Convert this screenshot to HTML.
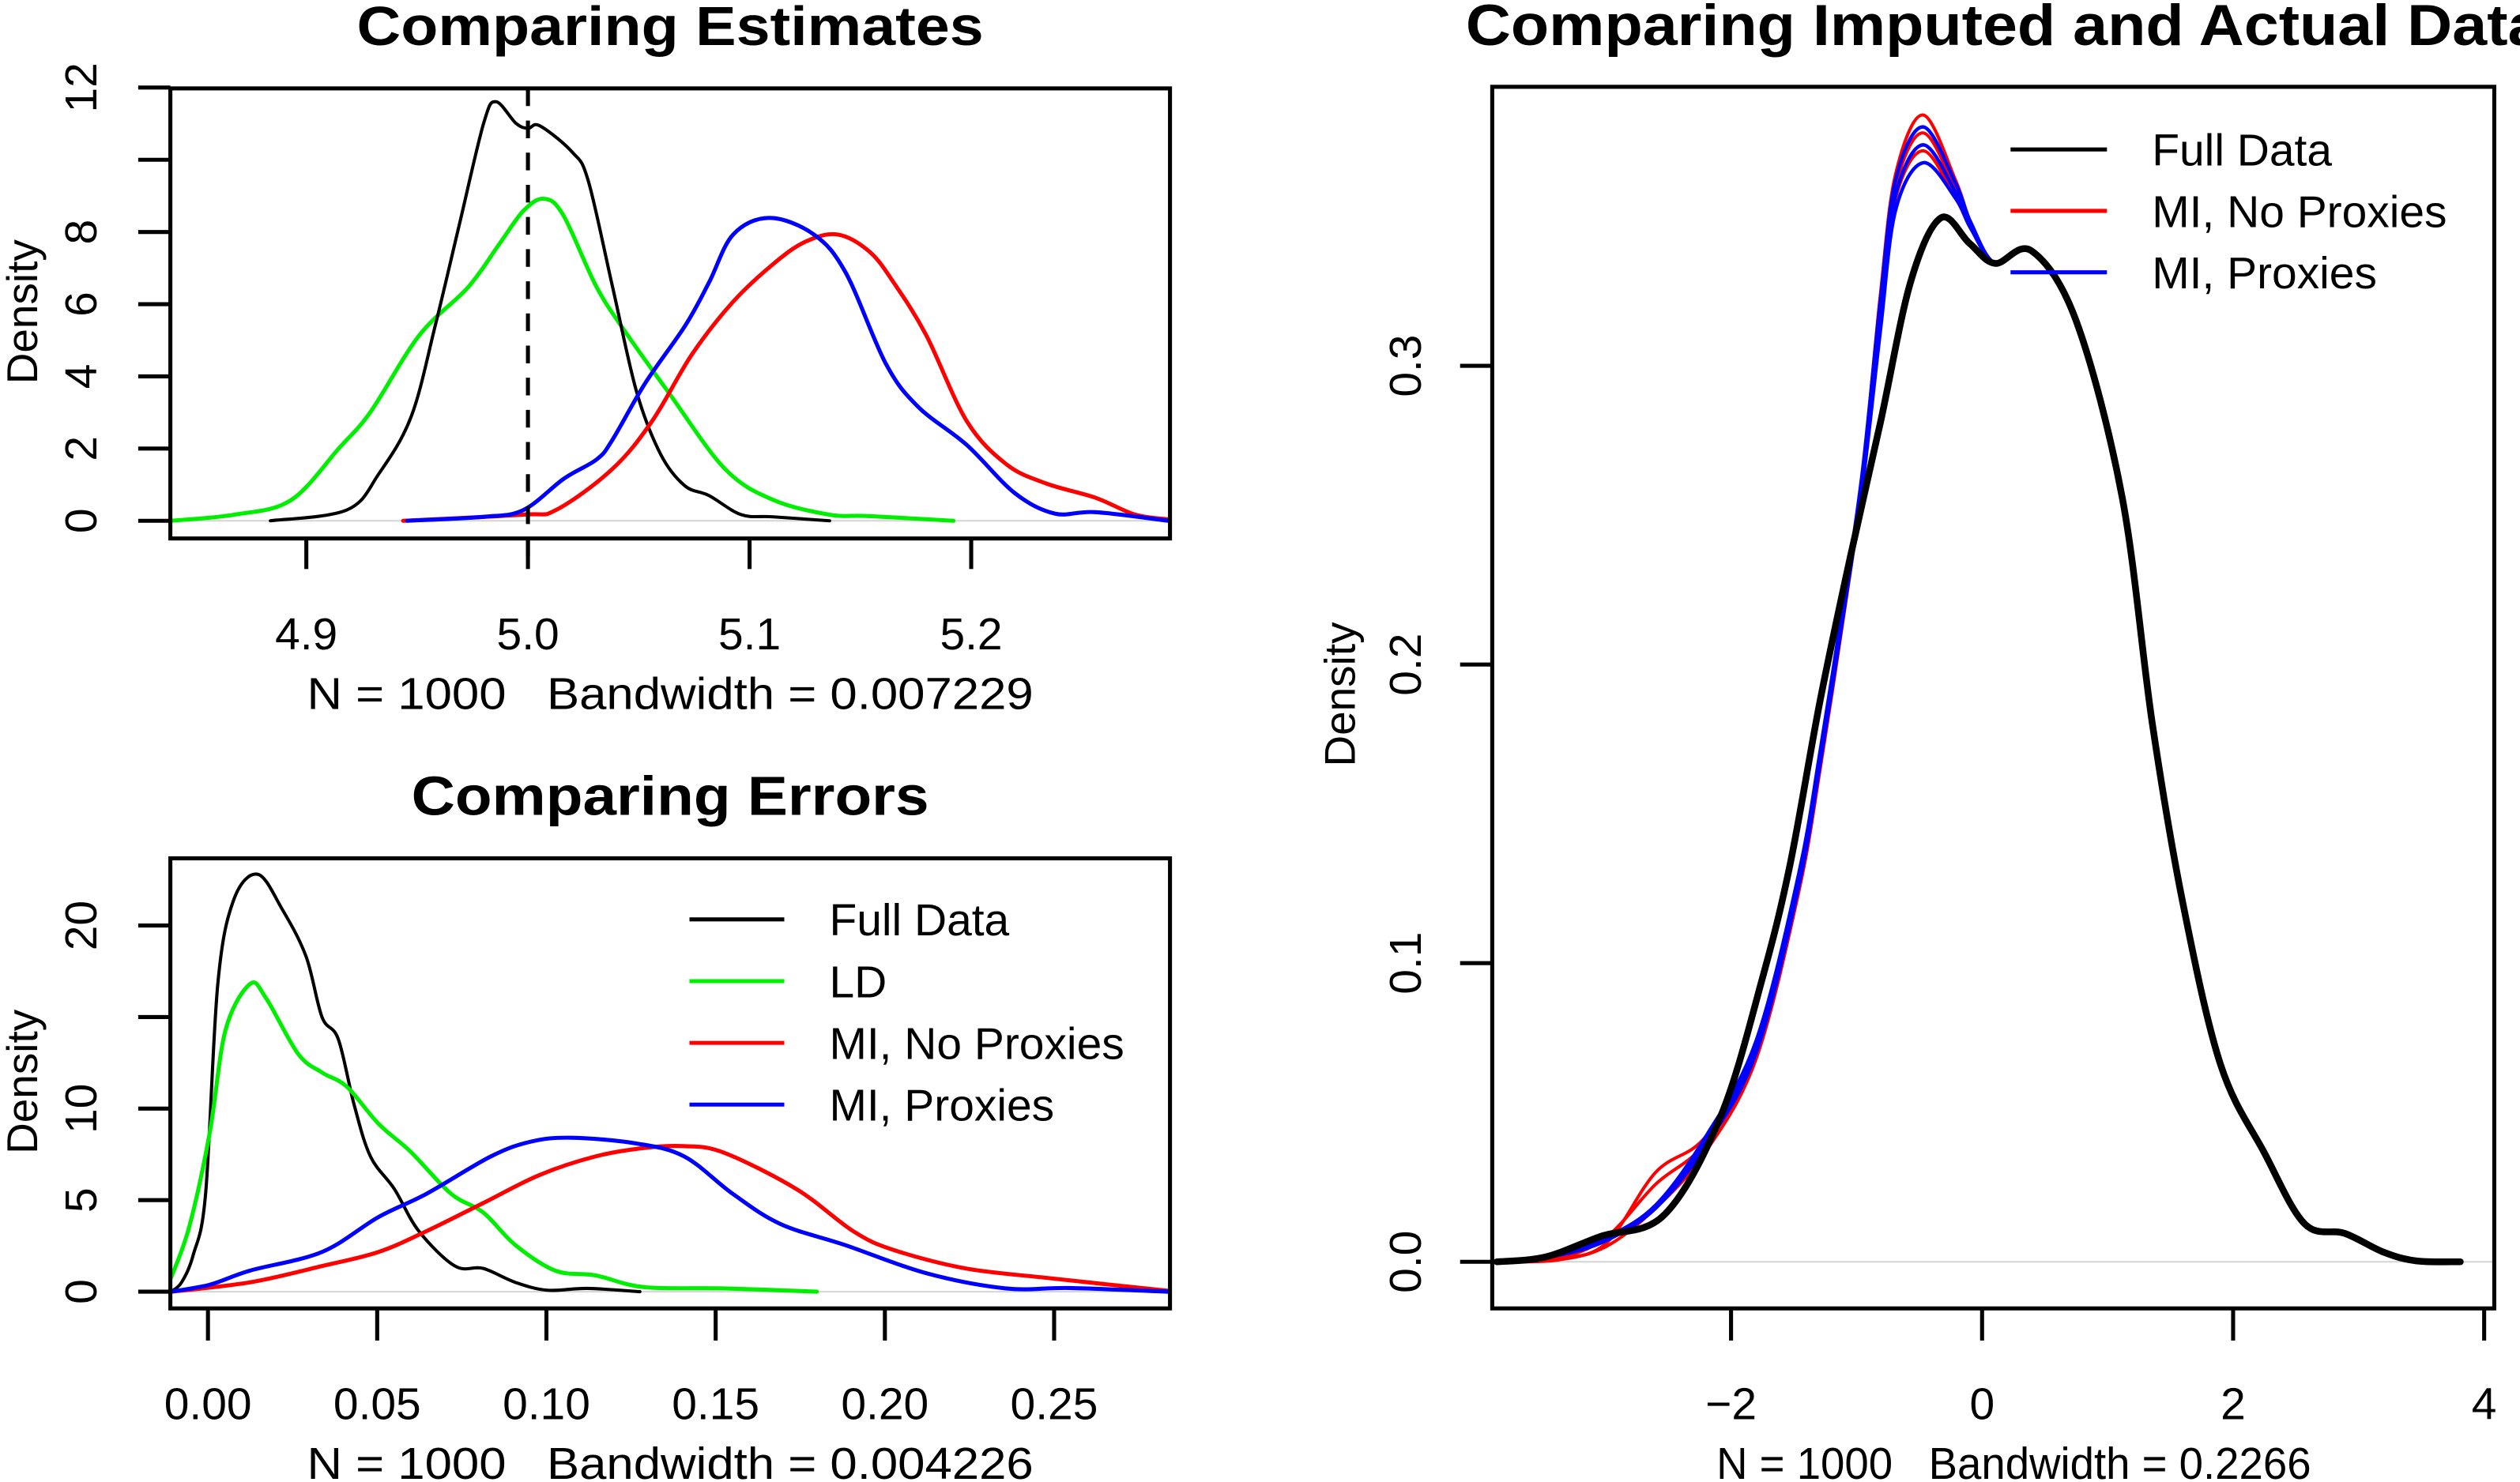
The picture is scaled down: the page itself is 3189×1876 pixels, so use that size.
<!DOCTYPE html>
<html><head><meta charset="utf-8"><style>
html,body{margin:0;padding:0;background:#fff;}
svg{display:block;}
text{font-family:"Liberation Sans",sans-serif;fill:#000;white-space:pre;}
</style></head><body>
<svg id="chart" xmlns="http://www.w3.org/2000/svg" xml:space="preserve" width="3189" height="1876" viewBox="0 0 1568 922" preserveAspectRatio="none">
<rect x="0" y="0" width="1568" height="922" fill="#fff"/>
<g>
<text x="417" y="28" font-size="34" font-weight="bold" text-anchor="middle" textLength="390" lengthAdjust="spacingAndGlyphs">Comparing Estimates</text>
<text x="417" y="441" font-size="28" text-anchor="middle" textLength="452" lengthAdjust="spacingAndGlyphs">N = 1000   Bandwidth = 0.007229</text>
<text transform="translate(23,194) rotate(-90)" font-size="27" text-anchor="middle">Density</text>
</g>
<g>
<text x="417" y="507" font-size="34" font-weight="bold" text-anchor="middle" textLength="322" lengthAdjust="spacingAndGlyphs">Comparing Errors</text>
<text x="417" y="920" font-size="28" text-anchor="middle" textLength="452" lengthAdjust="spacingAndGlyphs">N = 1000   Bandwidth = 0.004226</text>
<text transform="translate(23,673) rotate(-90)" font-size="27" text-anchor="middle">Density</text>
</g>
<g>
<text x="912" y="28" font-size="36" font-weight="bold" textLength="670" lengthAdjust="spacingAndGlyphs">Comparing Imputed and Actual Data</text>
<text x="1253" y="920" font-size="28" text-anchor="middle" textLength="370" lengthAdjust="spacingAndGlyphs">N = 1000   Bandwidth = 0.2266</text>
<text transform="translate(843,432) rotate(-90)" font-size="27" text-anchor="middle">Density</text>
</g>
</svg>
<script>
// ---------- Panel A data ----------
const aXTicks=[4.9,5.0,5.1,5.2];
const aXLabels=["4.9","5.0","5.1","5.2"];
const aYTicks=[0,2,4,6,8,10,12];
const aYLabels=["0","2","4","6","8","","12"];
const aBlackX=[4.8838,4.9183,4.9328,4.9474,4.9583,4.9691,4.98,4.9855,4.9946,5.0,5.0054,5.02,5.0272,5.0381,5.049,5.0599,5.0708,5.0817,5.0962,5.1107,5.1361];
const aBlackY=[0,0.30,1.31,2.90,5.44,8.22,11.01,11.61,11.01,10.87,10.94,10.21,9.42,6.50,3.58,1.84,0.97,0.70,0.17,0.11,0];
const aGreenX=[4.839,4.8675,4.893,4.915,4.929,4.951,4.973,4.987,4.998,5.0073,5.016,5.031,5.045,5.0635,5.089,5.111,5.136,5.154,5.192];
const aGreenY=[0,0.17,0.57,2.03,3.02,5.14,6.47,7.66,8.59,8.92,8.46,6.47,5.14,3.55,1.43,0.57,0.17,0.13,0];
const aRedX=[4.9437,4.998,5.0127,5.038,5.056,5.074,5.0926,5.111,5.1252,5.1397,5.154,5.165,5.1797,5.198,5.216,5.234,5.256,5.274,5.289];
const aRedY=[0,0.17,0.30,1.43,2.76,4.61,6.07,7.13,7.73,7.93,7.46,6.60,5.14,2.76,1.56,1.03,0.64,0.17,0.04];
const aBlueX=[4.9455,4.98,4.998,5.0163,5.031,5.038,5.053,5.071,5.0817,5.0926,5.109,5.129,5.1434,5.1615,5.176,5.198,5.2196,5.2377,5.256,5.289];
const aBlueY=[0,0.11,0.30,1.17,1.70,2.23,3.82,5.41,6.60,7.93,8.39,7.93,6.87,4.35,3.16,2.10,0.77,0.20,0.24,0];
const aTrue=[5.0];
// ---------- Panel B data ----------
const bXTicks=[0,0.05,0.10,0.15,0.20,0.25];
const bXLabels=["0.00","0.05","0.10","0.15","0.20","0.25"];
const bYTicks=[0,5,10,15,20];
const bYLabels=["0","5","10","","20"];
const bBlackX=[-0.0109,-0.0078,-0.0043,-0.0007,0.0029,0.0076,0.0147,0.0219,0.029,0.0337,0.0385,0.0432,0.048,0.0551,0.0623,0.073,0.0813,0.0908,0.1003,0.1121,0.1276];
const bBlackY=[0,0.51,2.04,5.35,16.8,21.4,22.8,20.9,18.3,15.0,13.8,10.2,7.39,5.6,3.31,1.40,1.27,0.51,0.08,0.18,0];
const bGreenX=[-0.0109,-0.0055,0.0005,0.0052,0.0124,0.0171,0.0266,0.0337,0.041,0.0504,0.0599,0.0718,0.0813,0.0908,0.1026,0.1145,0.1288,0.1525,0.1799];
const bGreenY=[0.76,3.57,8.66,14.3,16.8,16.05,13.0,11.97,11.2,9.17,7.64,5.35,4.33,2.55,1.15,0.89,0.25,0.18,0];
const bBlueX=[-0.0109,0.0005,0.0124,0.0337,0.0504,0.0646,0.0836,0.0955,0.1074,0.1264,0.1407,0.155,0.1692,0.1882,0.212,0.2357,0.2547,0.2837];
const bBlueY=[0,0.38,1.15,2.17,4.08,5.35,7.39,8.2,8.41,8.1,7.39,5.35,3.69,2.55,1.02,0.18,0.20,0];
const bRedX=[-0.0109,0.0124,0.0337,0.0504,0.0646,0.0813,0.0979,0.1145,0.1288,0.1407,0.1525,0.1739,0.1906,0.2024,0.2238,0.2476,0.2666,0.2837];
const bRedY=[0,0.51,1.40,2.17,3.31,4.84,6.37,7.39,7.85,7.95,7.59,5.6,3.31,2.29,1.27,0.76,0.38,0.05];
const bLegend=["Full Data","LD","MI, No Proxies","MI, Proxies"];
// ---------- Panel C data ----------
const cXTicks=[-2,0,2,4];
const cXLabels=["\u22122","0","2","4"];
const cYTicks=[0,0.1,0.2,0.3];
const cYLabels=["0.0","0.1","0.2","0.3"];
const cFullX=[-3.866,-3.48,-3.04,-2.53,-2.08,-1.75,-1.53,-1.29,-1.05,-0.81,-0.57,-0.33,-0.1,0.104,0.394,0.75,1.116,1.357,1.6,1.9,2.25,2.57,2.89,3.2,3.46,3.81];
const cFullY=[0,0.0016,0.0085,0.0158,0.049,0.095,0.133,0.188,0.236,0.281,0.328,0.3495,0.341,0.3343,0.3385,0.315,0.256,0.18,0.12,0.066,0.0364,0.0127,0.0095,0.0032,0.0003,0];
const cImpX=[-3.87,-3.4,-3.0,-2.6,-2.2,-1.8,-1.46,-1.29,-1.1,-0.955,-0.81,-0.69,-0.47,-0.21,-0.09,0.104,0.394,0.75,1.116,1.357,1.6,1.9,2.25,2.57,2.89,3.2,3.46,3.81];
const cRed1=[0,0.001,0.006,0.030,0.042,0.072,0.127,0.168,0.220,0.263,0.324,0.364,0.384,0.362,0.348,0.3343,0.3385,0.315,0.256,0.18,0.12,0.066,0.0364,0.0127,0.0095,0.0032,0.0003,0];
const cRed2=[0,0.001,0.008,0.026,0.040,0.070,0.126,0.167,0.219,0.262,0.321,0.360,0.378,0.359,0.347,0.3343,0.3385,0.315,0.256,0.18,0.12,0.066,0.0364,0.0127,0.0095,0.0032,0.0003,0];
const cRed3=[0,0.0005,0.005,0.018,0.037,0.068,0.124,0.165,0.217,0.260,0.318,0.356,0.372,0.356,0.346,0.3343,0.3385,0.315,0.256,0.18,0.12,0.066,0.0364,0.0127,0.0095,0.0032,0.0003,0];
const cBlue1=[0,0.002,0.008,0.019,0.042,0.074,0.130,0.171,0.222,0.264,0.322,0.362,0.380,0.361,0.348,0.3343,0.3385,0.315,0.256,0.18,0.12,0.066,0.0364,0.0127,0.0095,0.0032,0.0003,0];
const cBlue2=[0,0.002,0.008,0.018,0.040,0.072,0.128,0.169,0.220,0.262,0.318,0.357,0.374,0.358,0.347,0.3343,0.3385,0.315,0.256,0.18,0.12,0.066,0.0364,0.0127,0.0095,0.0032,0.0003,0];
const cBlue3=[0,0.002,0.007,0.018,0.039,0.070,0.126,0.167,0.218,0.259,0.312,0.352,0.368,0.356,0.346,0.3343,0.3385,0.315,0.256,0.18,0.12,0.066,0.0364,0.0127,0.0095,0.0032,0.0003,0];
const cLegend=["Full Data","MI, No Proxies","MI, Proxies"];

const NS="http://www.w3.org/2000/svg";
const svg=document.getElementById("chart");
function mk(tag,attrs,parent){const e=document.createElementNS(NS,tag);for(const k in attrs)e.setAttribute(k,attrs[k]);(parent||svg).appendChild(e);return e;}

const xA=v=>328.5+(v-5)*1379, yA=v=>324-v*22.46;
const xB=v=>129.4+v*2106, yB=v=>803.6-v*11.39;
const xC=v=>1233.3+v*78.1, yC=v=>785-v*1858;

function smoothPath(xs,ys,fx,fy){
  const p=xs.map((x,i)=>[fx(x),fy(ys[i])]);
  let d="M"+p[0][0].toFixed(2)+","+p[0][1].toFixed(2);
  for(let i=0;i<p.length-1;i++){
    const p0=p[i-1]||p[i],p1=p[i],p2=p[i+1],p3=p[i+2]||p2;
    const c1=[p1[0]+(p2[0]-p0[0])/6,p1[1]+(p2[1]-p0[1])/6];
    const c2=[p2[0]-(p3[0]-p1[0])/6,p2[1]-(p3[1]-p1[1])/6];
    d+="C"+c1[0].toFixed(2)+","+c1[1].toFixed(2)+" "+c2[0].toFixed(2)+","+c2[1].toFixed(2)+" "+p2[0].toFixed(2)+","+p2[1].toFixed(2);
  }
  return d;
}
function curve(name,xs,ys,fx,fy,color,w){
  const e=mk("path",{d:smoothPath(xs,ys,fx,fy),fill:"none",stroke:color,"stroke-width":w,"stroke-linejoin":"round","stroke-linecap":"round"});
  
  
}
function frame(prefix,l,r,t,b,xt,xl,fx,yt,yl,fy,tickBottom,xLabY,yLabX,fs){
  const z=mk("line",{x1:l,x2:r,y1:fy(0),y2:fy(0),stroke:"#d4d4d4","stroke-width":1});
  
  
  xt.forEach((v,i)=>{
    const tk=mk("line",{x1:fx(v),x2:fx(v),y1:b,y2:tickBottom,stroke:"#000","stroke-width":2.5});
    
    
    const tx=mk("text",{x:fx(v),y:xLabY,"font-size":fs,"text-anchor":"middle"});
    tx.textContent=xl[i];
    
    
  });
  yt.forEach((v,i)=>{
    const tk=mk("line",{x1:l-20,x2:l,y1:fy(v),y2:fy(v),stroke:"#000","stroke-width":2.5});
    
    
    if(yl[i]){
      const tx=mk("text",{transform:"translate("+yLabX+","+fy(v)+") rotate(-90)","font-size":fs,"text-anchor":"middle"});
      tx.textContent=yl[i];
      
      
    }
  });
}
function box(prefix,l,r,t,b){
  const bx=mk("rect",{x:l,y:t,width:r-l,height:b-t,fill:"none",stroke:"#000","stroke-width":2.5});
  
  
}

// Panel A
frame("estimates",106,728,55,335,aXTicks,aXLabels,xA,aYTicks,aYLabels,yA,354,404,60,28);
curve("estimates-ld-curve",aGreenX,aGreenY,xA,yA,"#00ee00",2.5);
curve("estimates-full-data-curve",aBlackX,aBlackY,xA,yA,"#000",2);
curve("estimates-mi-no-proxies-curve",aRedX,aRedY,xA,yA,"#ff0000",2.5);
curve("estimates-mi-proxies-curve",aBlueX,aBlueY,xA,yA,"#0000ff",2.5);
aTrue.forEach(v=>{
  const dl=mk("line",{x1:xA(v),x2:xA(v),y1:55,y2:354,stroke:"#000","stroke-width":2.5,"stroke-dasharray":"11,9"});
  
  
});
box("estimates",106,728,55,335);

// Panel B
frame("errors",106,728,534,814,bXTicks,bXLabels,xB,bYTicks,bYLabels,yB,834,883,60,28);
curve("errors-full-data-curve",bBlackX,bBlackY,xB,yB,"#000",2);
curve("errors-ld-curve",bGreenX,bGreenY,xB,yB,"#00ee00",2.5);
curve("errors-mi-no-proxies-curve",bRedX,bRedY,xB,yB,"#ff0000",2.5);
curve("errors-mi-proxies-curve",bBlueX,bBlueY,xB,yB,"#0000ff",2.5);
box("errors",106,728,534,814);
const bCols=["#000","#00ee00","#ff0000","#0000ff"];
bLegend.forEach((s,i)=>{
  const y=572+i*38.4;
  const ln=mk("line",{x1:429,x2:488,y1:y,y2:y,stroke:bCols[i],"stroke-width":2.5});
  
  
  const tx=mk("text",{x:516,y:y+10,"font-size":28});
  tx.textContent=s;
  
  
});

// Panel C
frame("imputed",928.5,1552,54,814,cXTicks,cXLabels,xC,cYTicks,cYLabels,yC,834,883,884,28);
curve("imputed-mi-no-proxies-curve-1",cImpX,cRed1,xC,yC,"#ff0000",2);
curve("imputed-mi-no-proxies-curve-2",cImpX,cRed2,xC,yC,"#ff0000",2);
curve("imputed-mi-no-proxies-curve-3",cImpX,cRed3,xC,yC,"#ff0000",2);
curve("imputed-mi-proxies-curve-1",cImpX,cBlue1,xC,yC,"#0000ff",2.2);
curve("imputed-mi-proxies-curve-2",cImpX,cBlue2,xC,yC,"#0000ff",2.2);
curve("imputed-mi-proxies-curve-3",cImpX,cBlue3,xC,yC,"#0000ff",2.2);
curve("imputed-full-data-curve",cFullX,cFullY,xC,yC,"#000",4.2);
box("imputed",928.5,1552,54,814);
const cCols=["#000","#ff0000","#0000ff"];
cLegend.forEach((s,i)=>{
  const y=93+i*38.2;
  const ln=mk("line",{x1:1251,x2:1311,y1:y,y2:y,stroke:cCols[i],"stroke-width":2.5});
  
  
  const tx=mk("text",{x:1339,y:y+10,"font-size":28});
  tx.textContent=s;
  
  
});
</script>
</body></html>
